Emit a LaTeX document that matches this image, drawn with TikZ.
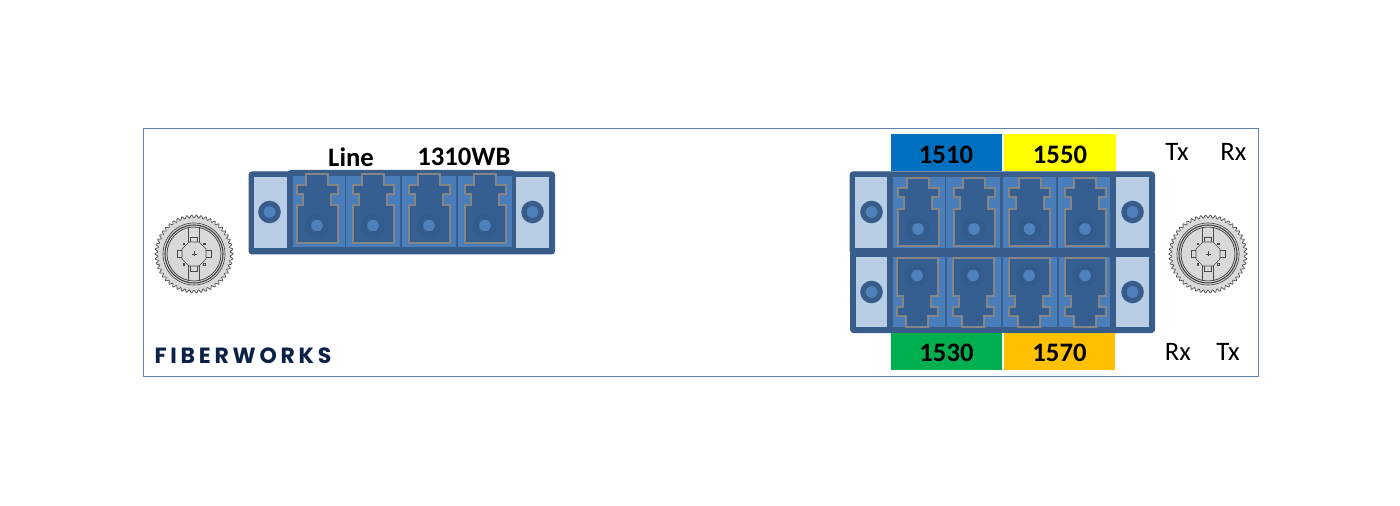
\documentclass[tikz,border=0pt]{standalone}
\usepackage{fontspec}
\setmainfont{Carlito}
\newfontfamily\logofont[LetterSpace=17]{Poppins}
\definecolor{outerline}{HTML}{5F83AE}
\definecolor{frameblue}{HTML}{385D8A}
\definecolor{cellblue}{HTML}{4A7EBB}
\definecolor{portblue}{HTML}{355F91}
\definecolor{haloblue}{HTML}{335B8C}
\definecolor{holeblue}{HTML}{4F81BD}
\definecolor{panelblue}{HTML}{B9CDE5}
\definecolor{portgrey}{HTML}{858585}
\definecolor{knobgrey}{HTML}{D9D9D9}
\definecolor{knobline}{HTML}{4A4A4A}
\definecolor{navylogo}{HTML}{0C2048}
\definecolor{bandA}{HTML}{0070C0}
\definecolor{bandB}{HTML}{FFFF00}
\definecolor{bandC}{HTML}{00B050}
\definecolor{bandD}{HTML}{FFC000}
\tikzset{
  x=.75pt,y=-.75pt,
  framebox/.style={fill=frameblue,draw=frameblue,line width=.75pt,rounded corners=2.2pt},
  panelbox/.style={fill=panelblue},
  cellbox/.style={fill=cellblue},
  bandbox/.style={inner sep=0pt,font=\fontsize{20}{24}\selectfont\bfseries,text=black},
  plainlabel/.style={inner sep=0pt,font=\fontsize{20}{24}\selectfont,text=black},
  boldlabel/.style={inner sep=0pt,font=\fontsize{20}{24}\selectfont\bfseries,text=black},
  logotext/.style={inner sep=0pt,font=\logofont\fontsize{16.5}{20}\selectfont\bfseries,text=navylogo},
  lcport/.pic={
    \draw[fill=portblue,draw=portgrey,line width=1.5pt]
      (-11,0)--(11,0)--(11,10.5)--(20.5,10.5)--(20.5,19.5)--(14,19.5)--(14,31)--(20.5,31)
      --(20.5,68.5)--(-20.5,68.5)--(-20.5,31)--(-14,31)--(-14,19.5)--(-20.5,19.5)--(-20.5,10.5)--(-11,10.5)--cycle;
    \fill[haloblue] (0,51) circle[radius=11.5];
    \fill[holeblue] (0,51) circle[radius=5.8];
  },
  mountscrew/.pic={
    \fill[frameblue] (0,0) circle[radius=11.3];
    \fill[holeblue] (0,0) circle[radius=5.8];
  },
  knobpic/.pic={
    \draw[fill=knobgrey,draw=knobline,line width=.5pt] plot[samples=361,domain=0:360] (\x:{37.6+1.5*cos(mod(\x,7.2)*50)}) -- cycle;
    \draw[knobline,line width=.5pt,fill=knobgrey] (0,0) circle[radius=31];
    \draw[black!75,line width=.8pt] (0,0) circle[radius=29];
    \draw[black!75,line width=.55pt] (0,0) circle[radius=27];
    \draw[knobline,line width=.5pt] (-5.5,-26.5)--(-5.5,26.5) (5.5,-26.5)--(5.5,26.5);
    \foreach \a in {0,90,180,270}{
      \draw[knobline,line width=.5pt,fill=knobgrey,rotate=\a] (11,-3.5) rectangle (17,3.5);
      \draw[knobline,line width=.35pt,rotate=\a+45] (14.5,0) circle[radius=1.1];
    }
    \draw[knobline,line width=.5pt,fill=knobgrey] (-5,-12)--(5,-12)--(12,-5)--(12,5)--(5,12)--(-5,12)--(-12,5)--(-12,-5)--cycle;
    \draw[knobline,line width=.3pt] (-2.5,0)--(2.5,0) (0,-2.5)--(0,2.5);
  }
}
\begin{document}
\begin{tikzpicture}
\useasboundingbox (0,0) rectangle (1400,506);
\fill[white] (0,0) rectangle (1400,506);
\draw[outerline,line width=.75pt] (143.5,128.5) rectangle (1258,376.5);

% knobs
\pic at (194,254) {knobpic};
\pic at (1208,254) {knobpic};

% left connector
\draw[framebox] (249,172) rectangle (554.5,254);
\draw[framebox] (288,170.5) rectangle (515,180);
\fill[panelbox] (254,177) rectangle (287,248);
\fill[panelbox] (516,177) rectangle (549,248);
\foreach \a/\b in {292.7/344.5,346/400,402/456.3,458/512}{\fill[cellbox] (\a,176) rectangle (\b,247.5);}
\foreach \c in {317,373,429,485}{\pic at (\c,174.5) {lcport};}
\pic at (269.5,212) {mountscrew};
\pic at (532.5,212) {mountscrew};

% right upper connector
\draw[framebox] (850,172) rectangle (1154.5,253.5);
\fill[panelbox] (855,177) rectangle (887,248);
\fill[panelbox] (1116,177) rectangle (1149,248);
\foreach \a/\b in {893/944.5,946/1000,1003/1056,1058/1110}{\fill[cellbox] (\a,177) rectangle (\b,248);}
\foreach \c in {918,974,1029.5,1085}{\pic at (\c,178) {lcport};}
\pic at (871.5,212) {mountscrew};
\pic at (1132.5,212) {mountscrew};

% right lower connector
\draw[framebox] (850.5,251) rectangle (1154.5,332.5);
\fill[panelbox] (856,257) rectangle (887,327);
\fill[panelbox] (1116,257) rectangle (1149,327);
\foreach \a/\b in {893/945,947/1001,1003/1057,1059/1110}{\fill[cellbox] (\a,257) rectangle (\b,327);}
\foreach \c in {917,973,1029,1085}{\pic[yscale=-1] at (\c,326.5) {lcport};}
\pic at (871.5,292) {mountscrew};
\pic at (1132.5,292) {mountscrew};

% wavelength bands
\fill[bandA] (891,134) rectangle (1002,171);
\fill[bandB] (1004,134) rectangle (1116,171);
\fill[bandC] (891,333) rectangle (1002,370);
\fill[bandD] (1004,333) rectangle (1115,370);
\node[bandbox] (b1510) at (946,155) {1510};
\node[bandbox] (b1550) at (1060,155) {1550};
\node[bandbox] (b1530) at (946.5,353) {1530};
\node[bandbox] (b1570) at (1059.5,353) {1570};

% labels
\node[boldlabel] (line) at (351,157) {Line};
\node[boldlabel] (wb) at (464,157) {1310WB};
\node[plainlabel] (tx1) at (1177,152) {Tx};
\node[plainlabel] (rx1) at (1233.5,152) {Rx};
\node[plainlabel] (rx2) at (1178,352) {Rx};
\node[plainlabel] (tx2) at (1228,352) {Tx};
\node[logotext] (logo) at (243,355.5) {FIBERWORKS};
\end{tikzpicture}
\end{document}
